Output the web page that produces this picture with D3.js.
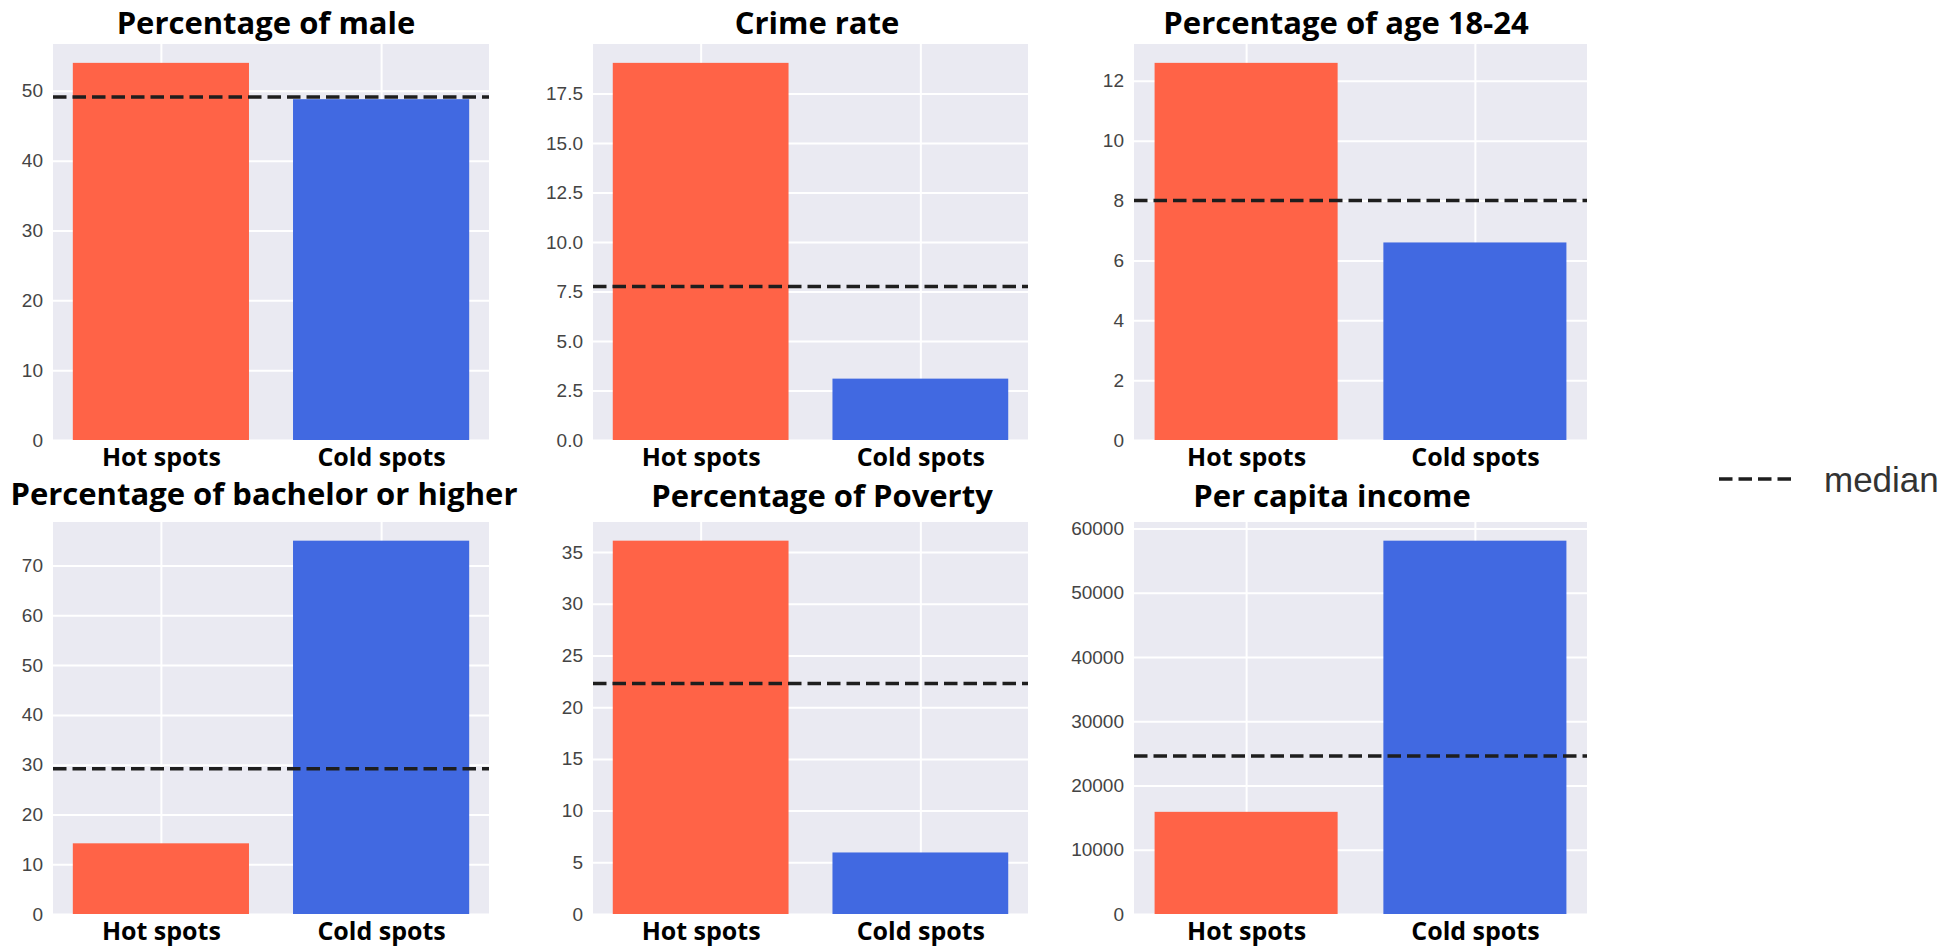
<!DOCTYPE html>
<html>
<head>
<meta charset="utf-8">
<script src="https://cdn.jsdelivr.net/npm/d3@7"></script>
<style>
  html, body { margin: 0; padding: 0; background: #ffffff; }
  svg { display: block; }
</style>
</head>
<body>
<svg id="chart" width="1943" height="952"></svg>
<script>
// ---------------- data ----------------
const categories = ["Hot spots", "Cold spots"];
const titles = [
  "Percentage of male",
  "Crime rate",
  "Percentage of age 18-24",
  "Percentage of bachelor or higher",
  "Percentage of Poverty",
  "Per capita income"
];
const hotValues    = [54.0, 19.05, 12.6, 14.2, 36.1, 15900];
const coldValues   = [48.8, 3.1,   6.6,  75.0, 5.95, 58100];
const medianValues = [49.1, 7.75,  8.0,  29.2, 22.3, 24600];
const tickValues = [
  [0, 10, 20, 30, 40, 50],
  [0, 2.5, 5, 7.5, 10, 12.5, 15, 17.5],
  [0, 2, 4, 6, 8, 10, 12],
  [0, 10, 20, 30, 40, 50, 60, 70],
  [0, 5, 10, 15, 20, 25, 30, 35],
  [0, 10000, 20000, 30000, 40000, 50000, 60000]
];
const tickFormats = ["d", ".1f", "d", "d", "d", "d"];
const legendLabel = "median";

// ---------------- layout ----------------
const panels = [
  { left: 53,   right: 489,  top: 44,  bottom: 440, titleX: 266,  titleY: 34 },
  { left: 593,  right: 1028, top: 44,  bottom: 440, titleX: 817,  titleY: 34 },
  { left: 1134, right: 1587, top: 44,  bottom: 440, titleX: 1346, titleY: 34 },
  { left: 53,   right: 489,  top: 522, bottom: 914, titleX: 264,  titleY: 505 },
  { left: 593,  right: 1028, top: 522, bottom: 914, titleX: 822,  titleY: 507 },
  { left: 1134, right: 1587, top: 522, bottom: 914, titleX: 1332, titleY: 507 }
];
const barColors = ["#FF6347", "#4169E1"]; // tomato, royalblue
const bgColor = "#EAEAF2";
const dash = "13.5,6";
const boldFont = "'Open Sans', Lato, sans-serif";
const tickFont = "'Liberation Sans', Arial, sans-serif";

const svg = d3.select("#chart");

panels.forEach((p, i) => {
  const w = p.right - p.left, h = p.bottom - p.top;
  const g = svg.append("g").attr("transform", `translate(${p.left},${p.top})`);
  const values = [hotValues[i], coldValues[i]];
  const yMax = d3.max(values) * 1.05;

  const x = d3.scaleLinear().domain([-0.49, 1.49]).range([0, w]);
  const y = d3.scaleLinear().domain([0, yMax]).range([h, 0]);

  g.append("rect").attr("width", w).attr("height", h).attr("fill", bgColor);

  // y axis with gridlines
  const yAxis = g.append("g")
    .call(d3.axisLeft(y).tickValues(tickValues[i])
      .tickFormat(d3.format(tickFormats[i]))
      .tickSize(-w).tickPadding(10));
  yAxis.select(".domain").remove();
  yAxis.selectAll(".tick line").attr("stroke", "#ffffff").attr("stroke-width", 2);
  yAxis.selectAll(".tick text")
    .attr("fill", "#444").style("font-family", tickFont)
    .style("font-size", "19px");

  // x axis with gridlines
  const xAxis = g.append("g").attr("transform", `translate(0,${h})`)
    .call(d3.axisBottom(x).tickValues([0, 1])
      .tickFormat(d => categories[d])
      .tickSize(-h).tickPadding(8));
  xAxis.select(".domain").remove();
  xAxis.selectAll(".tick line").attr("stroke", "#ffffff").attr("stroke-width", 2);
  xAxis.selectAll(".tick text")
    .attr("fill", "#000").attr("dy", "0.71em")
    .style("font-family", boldFont)
    .style("font-weight", "700").style("font-size", "25px");

  // bars
  g.selectAll("rect.bar").data(values).enter().append("rect")
    .attr("class", "bar")
    .attr("x", (d, j) => x(j - 0.4))
    .attr("width", (d, j) => x(j + 0.4) - x(j - 0.4))
    .attr("y", d => y(d))
    .attr("height", d => y(0) - y(d))
    .attr("fill", (d, j) => barColors[j]);

  // median line
  g.append("line")
    .attr("x1", 0).attr("x2", w)
    .attr("y1", y(medianValues[i])).attr("y2", y(medianValues[i]))
    .attr("stroke", "#1e1e1e").attr("stroke-width", 3.5)
    .attr("stroke-dasharray", dash);

  // title
  svg.append("text")
    .attr("x", p.titleX).attr("y", p.titleY)
    .attr("text-anchor", "middle")
    .style("font-family", boldFont)
    .style("font-weight", "700").style("font-size", "31px")
    .attr("fill", "#000")
    .text(titles[i]);
});

// legend
const lg = svg.append("g");
lg.append("line")
  .attr("x1", 1719).attr("x2", 1793).attr("y1", 479).attr("y2", 479)
  .attr("stroke", "#1e1e1e").attr("stroke-width", 3.5)
  .attr("stroke-dasharray", dash);
lg.append("text")
  .attr("x", 1824).attr("y", 492)
  .style("font-family", tickFont)
  .style("font-size", "35px").attr("fill", "#333")
  .text(legendLabel);
</script>
</body>
</html>
